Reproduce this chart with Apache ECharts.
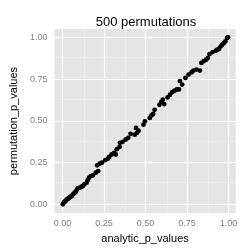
<!DOCTYPE html>
<html><head><meta charset="utf-8">
<script src="https://cdn.jsdelivr.net/npm/echarts@6/dist/echarts.min.js"></script>
<style>html,body{margin:0;padding:0;background:#fff}#c{width:249px;height:249px}</style>
</head><body><div id="c"></div>
<script>
const titleText = '500 permutations';
const xName = 'analytic_p_values';
const yName = 'permutation_p_values';
const majorTicks = [0, 0.25, 0.5, 0.75, 1];
const minorTicks = [0.125, 0.375, 0.625, 0.875];
const tickLabels = ['0.00', '0.25', '0.50', '0.75', '1.00'];
const analytic = [0.002,0.008,0.013,0.019,0.025,0.031,0.037,0.043,0.049,0.056,0.062,0.068,0.074,0.08,0.087,0.093,0.106,0.115,0.122,0.131,0.145,0.151,0.16,0.17,0.183,0.2,0.215,0.209,0.224,0.238,0.257,0.273,0.282,0.296,0.311,0.321,0.327,0.344,0.346,0.362,0.381,0.396,0.41,0.435,0.449,0.458,0.443,0.488,0.497,0.526,0.536,0.546,0.555,0.584,0.594,0.604,0.613,0.633,0.648,0.662,0.675,0.69,0.702,0.708,0.721,0.741,0.76,0.779,0.789,0.808,0.828,0.837,0.851,0.866,0.876,0.886,0.905,0.925,0.934,0.944,0.954,0.963,0.973,0.982,0.992,0.998];
const permutation = [0,0.01,0.015,0.02,0.028,0.032,0.036,0.042,0.046,0.05,0.058,0.064,0.07,0.075,0.089,0.097,0.1,0.105,0.109,0.119,0.129,0.143,0.159,0.169,0.173,0.189,0.199,0.233,0.243,0.249,0.264,0.273,0.284,0.298,0.308,0.298,0.33,0.344,0.368,0.374,0.388,0.398,0.422,0.417,0.428,0.441,0.457,0.477,0.497,0.517,0.532,0.541,0.566,0.596,0.612,0.626,0.6,0.64,0.656,0.672,0.68,0.688,0.688,0.738,0.717,0.757,0.777,0.791,0.801,0.807,0.801,0.847,0.857,0.866,0.877,0.9,0.912,0.92,0.926,0.932,0.946,0.956,0.966,0.976,0.996,1.0];

const font = 'Liberation Sans';
const fmt = v => { const i = majorTicks.indexOf(+v.toFixed(3)); return i >= 0 ? tickLabels[i] : ''; };
const gridLines = [];
minorTicks.forEach(v => { gridLines.push({xAxis: v, lineStyle: {color: '#F2F2F2', width: 0.6, type: 'solid'}}); gridLines.push({yAxis: v, lineStyle: {color: '#F2F2F2', width: 0.6, type: 'solid'}}); });
majorTicks.forEach(v => { gridLines.push({xAxis: v, lineStyle: {color: '#FFFFFF', width: 1.2, type: 'solid'}}); gridLines.push({yAxis: v, lineStyle: {color: '#FFFFFF', width: 1.2, type: 'solid'}}); });

const axisCommon = {
  type: 'value',
  axisLine: {show: false},
  splitLine: {show: false},
  axisTick: {show: true, customValues: majorTicks, length: 4, lineStyle: {color: '#7F7F7F', width: 1}},
  axisLabel: {customValues: majorTicks, formatter: fmt, color: '#7F7F7F', fontSize: 9, fontFamily: font},
  nameLocation: 'middle',
  nameTextStyle: {color: '#000', fontSize: 11, fontFamily: font}
};
const chart = echarts.init(document.getElementById('c'), null, {renderer: 'canvas'});
chart.setOption({
  animation: false,
  backgroundColor: '#fff',
  title: {text: titleText, left: 141, textAlign: 'center', top: 11, textStyle: {fontSize: 13, fontWeight: 'normal', color: '#000', fontFamily: font}},
  grid: {left: 47.3, right: 13.3, top: 29, bottom: 35, show: true, backgroundColor: '#E5E5E5', borderWidth: 0, containLabel: false},
  xAxis: Object.assign({}, axisCommon, {min: -0.049, max: 1.044, name: xName, nameGap: 16, axisLabel: Object.assign({}, axisCommon.axisLabel, {margin: 6})}),
  yAxis: Object.assign({}, axisCommon, {min: -0.053, max: 1.05, name: yName, nameGap: 21, axisLabel: Object.assign({}, axisCommon.axisLabel, {margin: 7})}),
  series: [
    {type: 'scatter', data: [], z: 1, silent: true, markLine: {z: 1, silent: true, symbol: 'none', label: {show: false}, animation: false, data: gridLines}},
    {type: 'scatter', z: 10, symbolSize: 4.8, itemStyle: {color: '#000', opacity: 1}, data: analytic.map((v, i) => [v, permutation[i]])}
  ]
});
</script></body></html>
